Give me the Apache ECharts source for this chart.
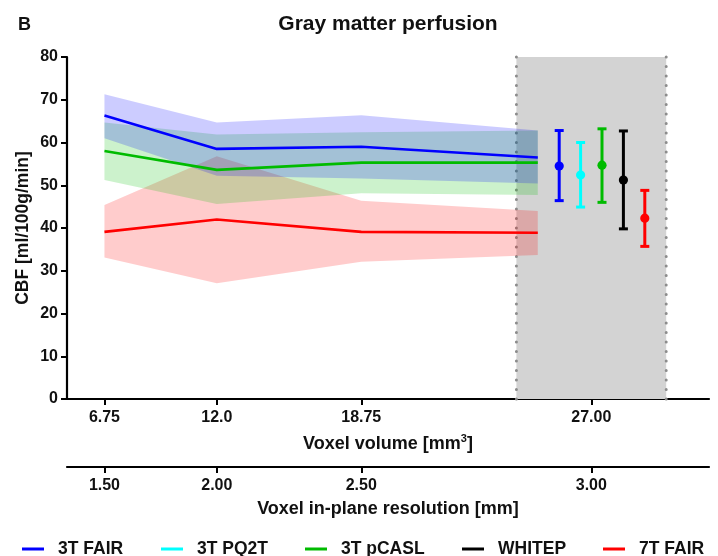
<!DOCTYPE html>
<html>
<head>
<meta charset="utf-8">
<script src="https://cdn.jsdelivr.net/npm/echarts@6/dist/echarts.min.js"></script>
<style>
html,body{margin:0;padding:0;background:#fff;}
#chart{width:718px;height:556px;}
</style>
</head>
<body>
<div id="chart"></div>
<script>
// ---- data ----
const volTicks = [6.75, 12, 18.75, 29.5];
const volLabels = ['6.75', '12.0', '18.75', '27.00'];
const resLabels = ['1.50', '2.00', '2.50', '3.00'];
const lineX = [6.75, 12, 18.75, 27];

const fairMean = [66.3, 58.5, 59.0, 56.5];
const fairLow = [61.0, 52.2, 51.6, 50.4];
const fairHigh = [71.3, 64.7, 66.4, 62.8];

const pcaslMean = [58.0, 53.6, 55.3, 55.3];
const pcaslLow = [51.2, 45.6, 48.1, 47.7];
const pcaslHigh = [64.7, 61.9, 62.4, 62.8];

const fair7Mean = [39.1, 42.0, 39.1, 38.9];
const fair7Low = [33.1, 27.1, 32.1, 33.7];
const fair7High = [45.4, 56.8, 46.4, 44.0];

const sequences = ['3T FAIR', '3T PQ2T', '3T pCASL', 'WHITEP', '7T FAIR'];
const errX = [28, 29, 30, 31, 32];
const errMean = [54.5, 52.4, 54.7, 51.2, 42.3];
const errLow = [46.4, 44.9, 46.0, 39.8, 35.7];
const errHigh = [62.8, 60.0, 63.2, 62.7, 48.8];

const shadeRange = [26, 33];

// ---- styles ----
const seqColors = ['#0000ff', '#00ffff', '#00bb00', '#000000', '#ff0000'];
const FONT = 'Liberation Sans, Arial, sans-serif';
const TXT = '#111';

const chart = echarts.init(document.getElementById('chart'), null, {renderer: 'canvas'});

function bandSeries(name, low, high, fill) {
  return {
    type: 'custom', name: name, z: 2, silent: true,
    data: lineX.map((x, i) => [x, low[i], high[i]]),
    encode: {x: 0, y: [1, 2]},
    renderItem: function (params, api) {
      if (params.dataIndex !== 0) return null;
      const pts = [];
      for (let i = 0; i < lineX.length; i++) pts.push(api.coord([lineX[i], high[i]]));
      for (let i = lineX.length - 1; i >= 0; i--) pts.push(api.coord([lineX[i], low[i]]));
      return {type: 'polygon', shape: {points: pts}, style: {fill: fill}};
    }
  };
}

function lineSeries(name, mean, color) {
  return {
    type: 'line', name: name, z: 4, silent: true,
    data: lineX.map((x, i) => [x, mean[i]]),
    symbol: 'none',
    lineStyle: {color: color, width: 2.6},
    itemStyle: {color: color},
    animation: false
  };
}

function errSeries(i) {
  const color = seqColors[i];
  return {
    type: 'custom', name: sequences[i], z: 5, silent: true,
    itemStyle: {color: color},
    data: [[errX[i], errMean[i], errLow[i], errHigh[i]]],
    encode: {x: 0, y: [1, 2, 3]},
    renderItem: function (params, api) {
      const x = api.value(0);
      const pm = api.coord([x, api.value(1)]);
      const pl = api.coord([x, api.value(2)]);
      const ph = api.coord([x, api.value(3)]);
      const hw = 4.5;
      const st = {stroke: color, lineWidth: 3};
      return {
        type: 'group',
        children: [
          {type: 'line', shape: {x1: pm[0], y1: ph[1], x2: pm[0], y2: pl[1]}, style: st},
          {type: 'line', shape: {x1: pm[0] - hw, y1: ph[1], x2: pm[0] + hw, y2: ph[1]}, style: st},
          {type: 'line', shape: {x1: pm[0] - hw, y1: pl[1], x2: pm[0] + hw, y2: pl[1]}, style: st},
          {type: 'circle', shape: {cx: pm[0], cy: pm[1], r: 4.6}, style: {fill: color}}
        ]
      };
    }
  };
}

const shadeSeries = {
  type: 'custom', name: 'shade', z: 1, silent: true,
  data: [[shadeRange[0], shadeRange[1]]],
  encode: {x: [0, 1]},
  renderItem: function (params, api) {
    const a = api.coord([shadeRange[0], 80]);
    const b = api.coord([shadeRange[1], 0]);
    const dot = {stroke: '#8c8c8c', lineWidth: 3, lineDash: [0.1, 9.4], lineCap: 'round'};
    return {
      type: 'group',
      children: [
        {type: 'rect', shape: {x: a[0], y: a[1], width: b[0] - a[0], height: b[1] - a[1]}, style: {fill: '#d3d3d3'}},
        {type: 'line', z2: 10, shape: {x1: a[0], y1: a[1], x2: a[0], y2: b[1]}, style: dot},
        {type: 'line', z2: 10, shape: {x1: b[0], y1: a[1], x2: b[0], y2: b[1]}, style: dot}
      ]
    };
  }
};

const axisTextStyle = {fontFamily: FONT, fontWeight: 'bold', fontSize: 16, color: TXT};
const nameTextStyle = {fontFamily: FONT, fontWeight: 'bold', fontSize: 18, color: TXT};

function xAxisDef(labels, offset, name, nameGap, rich) {
  return {
    type: 'value', min: 5, max: 35, position: 'bottom', offset: offset,
    axisLine: {show: true, onZero: false, lineStyle: {color: '#000', width: 2.2}},
    axisTick: {show: true, customValues: volTicks, length: 6, lineStyle: {color: '#000', width: 2}},
    axisLabel: Object.assign({
      customValues: volTicks, margin: 11,
      formatter: function (v) { const k = volTicks.indexOf(v); return k >= 0 ? labels[k] : ''; }
    }, axisTextStyle),
    splitLine: {show: false},
    name: name, nameLocation: 'middle', nameGap: nameGap,
    nameTextStyle: Object.assign({rich: rich || {}}, nameTextStyle)
  };
}

const legendLefts = [22, 161, 305, 462, 603];

const option = {
  animation: false,
  backgroundColor: '#fff',
  grid: {left: 67, right: 9, top: 57, bottom: 157, containLabel: false},
  graphic: [
    {type: 'text', x: 18, y: 25, style: {text: 'B', font: 'bold 18px ' + FONT, fill: TXT, verticalAlign: 'middle'}},
    {type: 'text', x: 388, y: 24, style: {text: 'Gray matter perfusion', font: 'bold 21px ' + FONT, fill: TXT, align: 'center', verticalAlign: 'middle'}}
  ],
  xAxis: [
    xAxisDef(volLabels, 0, 'Voxel volume [mm{sup|3}]', 34,
      {sup: {fontFamily: FONT, fontWeight: 'bold', fontSize: 11, color: TXT, verticalAlign: 'top', padding: [0, 0, 11, 0]}}),
    xAxisDef(resLabels, 68, 'Voxel in-plane resolution [mm]', 33)
  ],
  yAxis: {
    type: 'value', min: 0, max: 80, interval: 10,
    axisLine: {show: true, lineStyle: {color: '#000', width: 2.2}},
    axisTick: {show: true, length: 6, lineStyle: {color: '#000', width: 2}},
    axisLabel: Object.assign({margin: 9}, axisTextStyle),
    splitLine: {show: false},
    name: 'CBF [ml/100g/min]', nameLocation: 'middle', nameRotate: 90, nameGap: 35,
    nameMoveOverlap: false,
    nameTextStyle: Object.assign({}, nameTextStyle, {fontSize: 17.5})
  },
  legend: sequences.map((name, i) => ({
    data: [{name: name, itemStyle: {color: seqColors[i]}}],
    left: legendLefts[i], top: 540, padding: 0,
    icon: 'rect', itemWidth: 22, itemHeight: 3,
    selectedMode: false,
    textStyle: {fontFamily: FONT, fontWeight: 'bold', fontSize: 17.5, color: TXT, padding: [0, 0, 0, 9]}
  })),
  series: [
    shadeSeries,
    bandSeries('7T FAIR band', fair7Low, fair7High, 'rgba(255,0,0,0.2)'),
    bandSeries('3T pCASL band', pcaslLow, pcaslHigh, 'rgba(0,190,0,0.2)'),
    bandSeries('3T FAIR band', fairLow, fairHigh, 'rgba(0,0,255,0.2)'),
    lineSeries('7T FAIR', fair7Mean, seqColors[4]),
    lineSeries('3T pCASL', pcaslMean, seqColors[2]),
    lineSeries('3T FAIR', fairMean, seqColors[0]),
    errSeries(0), errSeries(1), errSeries(2), errSeries(3), errSeries(4)
  ]
};

chart.setOption(option);
</script>
</body>
</html>
